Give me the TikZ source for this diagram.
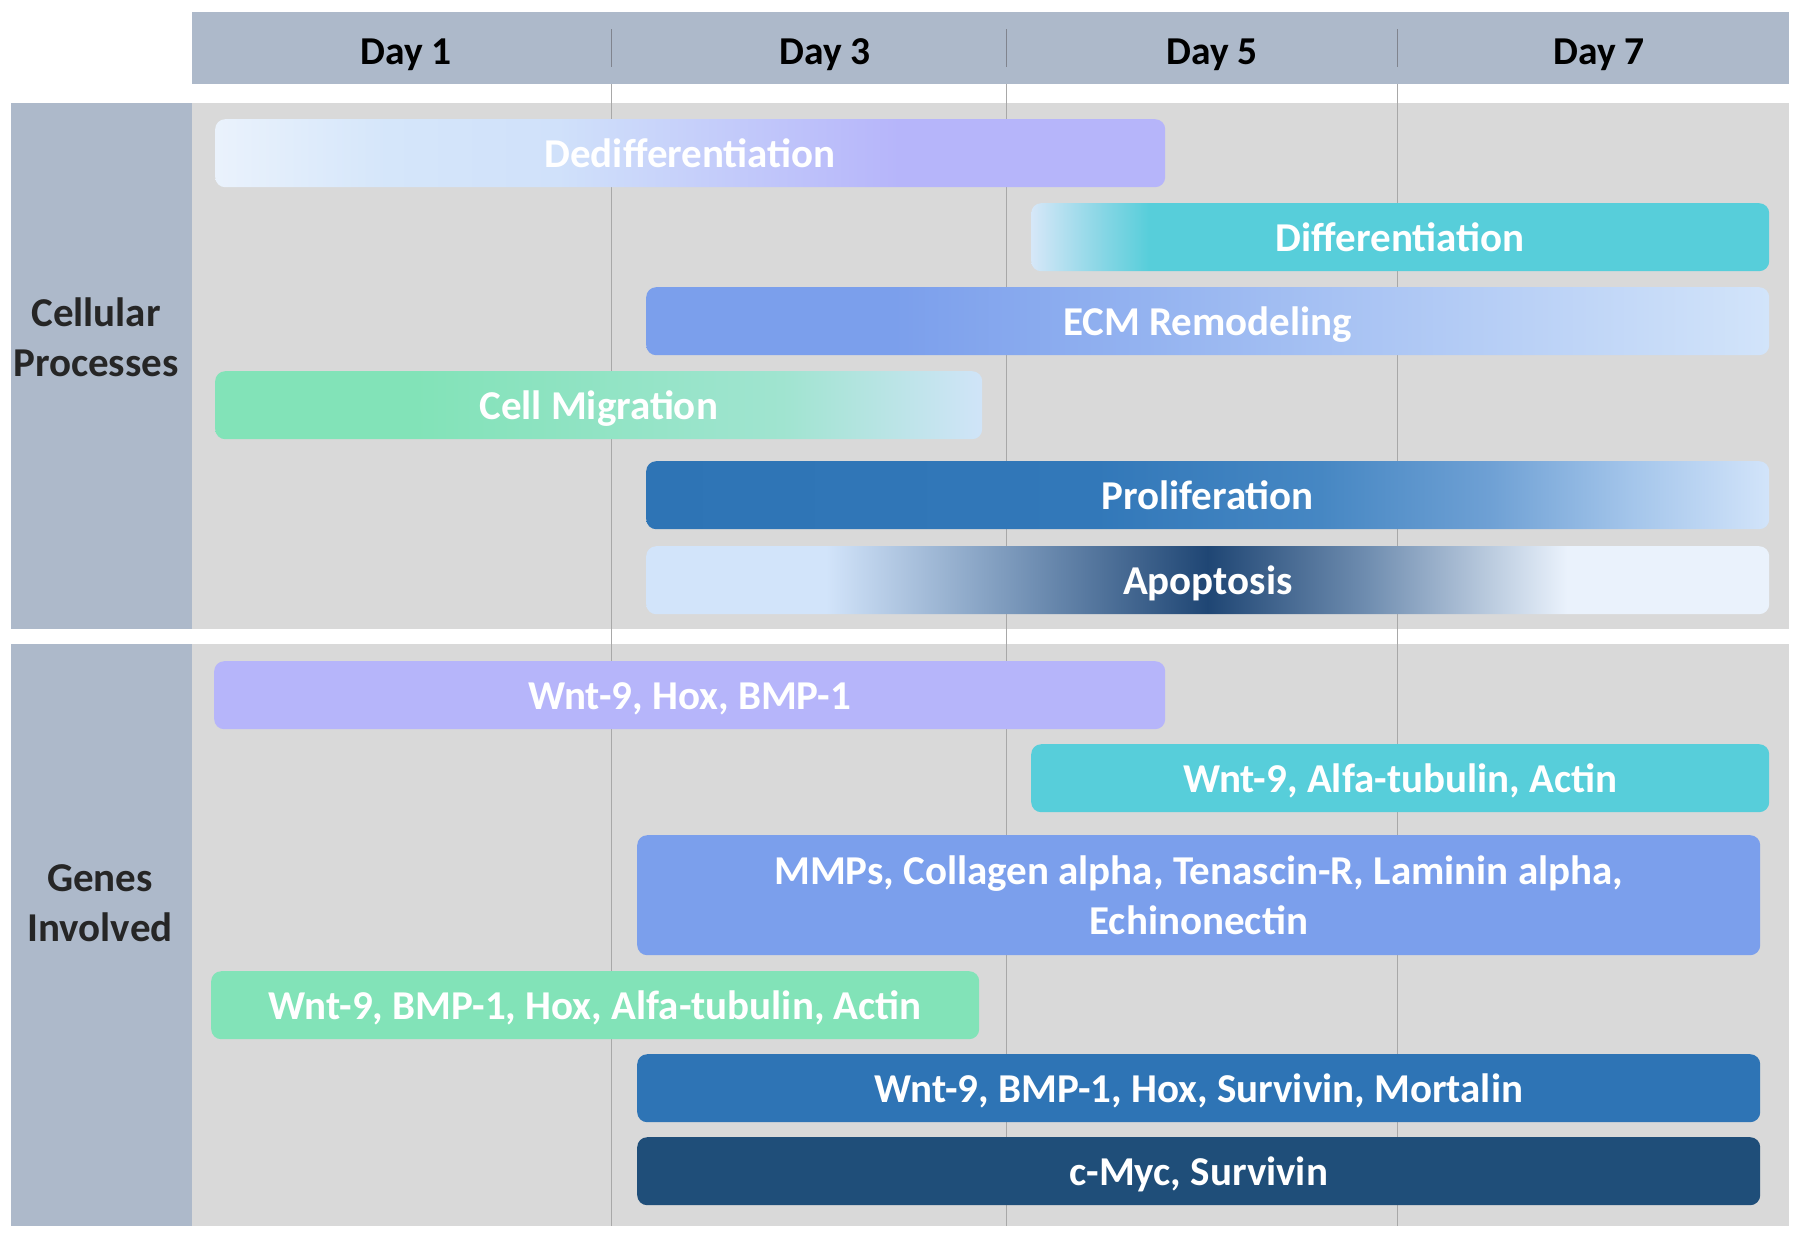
\documentclass[tikz,border=0pt]{standalone}
\usepackage{fontspec}
\setmainfont{Carlito}
\definecolor{cHdr}{RGB}{173,185,202}
\definecolor{cArea}{RGB}{217,217,217}
\definecolor{cGrid}{RGB}{168,168,168}
\definecolor{cTick}{RGB}{128,132,142}
\definecolor{cLav}{RGB}{182,181,250}
\definecolor{cTeal}{RGB}{87,206,218}
\definecolor{cEcm}{RGB}{123,159,236}
\definecolor{cMint}{RGB}{130,227,184}
\definecolor{cProl}{RGB}{46,116,181}
\definecolor{cNavy}{RGB}{31,78,121}
\definecolor{cPale}{RGB}{210,228,250}
\definecolor{cPaler}{RGB}{234,242,252}
\definecolor{cDarkTxt}{RGB}{38,38,38}
% intermediate stops
\definecolor{dedA}{RGB}{213,230,250}
\definecolor{dedB}{RGB}{208,225,250}
\definecolor{difA}{RGB}{214,231,248}
\definecolor{difB}{RGB}{140,215,230}
\definecolor{migA}{RGB}{160,228,208}
\definecolor{migB}{RGB}{208,228,248}
\definecolor{proA}{RGB}{50,120,185}
\definecolor{proB}{RGB}{70,135,195}
\definecolor{proC}{RGB}{110,160,212}
\definecolor{proD}{RGB}{165,198,235}
\definecolor{apoA}{RGB}{120,150,185}
\definecolor{apoB}{RGB}{31,70,116}
\definecolor{apoC}{RGB}{110,140,175}
% shadings: bar spans 25bp..75bp
\pgfdeclarehorizontalshading{shDed}{100bp}{color(0bp)=(cPaler); color(25bp)=(cPaler); color(34bp)=(dedA); color(43bp)=(dedB); color(61bp)=(cLav); color(100bp)=(cLav)}
\pgfdeclarehorizontalshading{shDiff}{100bp}{color(0bp)=(difA); color(25bp)=(difA); color(29.5bp)=(difB); color(33bp)=(cTeal); color(100bp)=(cTeal)}
\pgfdeclarehorizontalshading{shEcm}{100bp}{color(0bp)=(cEcm); color(25bp)=(cEcm); color(36bp)=(cEcm); color(75bp)=(cPale); color(100bp)=(cPale)}
\pgfdeclarehorizontalshading{shMig}{100bp}{color(0bp)=(cMint); color(25bp)=(cMint); color(38bp)=(cMint); color(62bp)=(migA); color(75bp)=(migB); color(100bp)=(migB)}
\pgfdeclarehorizontalshading{shProl}{100bp}{color(0bp)=(cProl); color(25bp)=(cProl); color(45bp)=(proA); color(55bp)=(proB); color(62.5bp)=(proC); color(69bp)=(proD); color(75bp)=(cPale); color(100bp)=(cPale)}
\pgfdeclarehorizontalshading{shApo}{100bp}{color(0bp)=(cPale); color(25bp)=(cPale); color(33bp)=(cPale); color(41.5bp)=(apoA); color(50bp)=(apoB); color(57bp)=(apoC); color(66bp)=(cPaler); color(75bp)=(cPaler); color(100bp)=(cPaler)}
\newcommand\barfont{\fontsize{41}{50}\selectfont\bfseries}
\newcommand\dayfont{\fontsize{39.5}{48}\selectfont\bfseries}
\tikzset{
  barbase/.style={rounded corners=10pt, inner sep=0pt, text=white, font=\barfont,
    anchor=north west, minimum height=68pt, align=center},
  bar/.style={barbase, text height=29pt, text depth=0pt},
  gridline/.style={draw=cGrid, line width=1pt},
  tickline/.style={draw=cTick, line width=1pt},
  daylabel/.style={font=\dayfont, text=black, inner sep=0pt, text height=27pt, text depth=0pt},
  sidelabel/.style={font=\barfont, text=cDarkTxt, inner sep=0pt, align=center}
}
\begin{document}
\begin{tikzpicture}[x=1pt, y=-1pt]
\useasboundingbox[fill=white] (0,0) rectangle (1800,1237);
% header
\fill[cHdr] (192,12) rectangle (1789,84);
% sections
\fill[cHdr] (11,103) rectangle (192,629);
\fill[cArea] (192,103) rectangle (1789,629);
\fill[cHdr] (11,644) rectangle (192,1226);
\fill[cArea] (192,644) rectangle (1789,1226);
% grid lines and header ticks
\foreach \gx in {611,1006,1397}{
  \draw[gridline] (\gx,84) -- (\gx,1226);
  \draw[tickline] (\gx,29) -- (\gx,67);
}
% day labels
\node[daylabel] (d1) at (406,51) {Day 1};
\node[daylabel] (d3) at (825,51) {Day 3};
\node[daylabel] (d5) at (1212,51) {Day 5};
\node[daylabel] (d7) at (1599,51) {Day 7};
% side labels
\node[sidelabel] (lp) at (96,337) {Cellular\\Processes};
\node[sidelabel] (lg) at (100,903) {Genes\\Involved};
% cellular processes
\node[bar, shading=shDed, minimum width=950pt] (ded) at (215,119) {Dedifferentiation};
\node[bar, shading=shDiff, minimum width=738pt] (dif) at (1031,203) {Differentiation};
\node[bar, shading=shEcm, minimum width=1123pt] (ecm) at (646,287) {ECM Remodeling};
\node[bar, shading=shMig, minimum width=767pt] (mig) at (215,371) {Cell Migration};
\node[bar, shading=shProl, minimum width=1123pt] (pro) at (646,461) {Proliferation};
\node[bar, shading=shApo, minimum width=1123pt] (apo) at (646,546) {Apoptosis};
% genes involved
\node[bar, fill=cLav, minimum width=951pt] (g1) at (214,661) {Wnt-9, Hox, BMP-1};
\node[bar, fill=cTeal, minimum width=738pt] (g2) at (1031,744) {Wnt-9, Alfa-tubulin, Actin};
\node[barbase, fill=cEcm, minimum width=1123pt, minimum height=120pt] (g3) at (637,835) {MMPs, Collagen alpha, Tenascin-R, Laminin alpha,\\Echinonectin};
\node[bar, fill=cMint, minimum width=768pt] (g4) at (211,971) {Wnt-9, BMP-1, Hox, Alfa-tubulin, Actin};
\node[bar, fill=cProl, minimum width=1123pt] (g5) at (637,1054) {Wnt-9, BMP-1, Hox, Survivin, Mortalin};
\node[bar, fill=cNavy, minimum width=1123pt] (g6) at (637,1137) {c-Myc, Survivin};
\end{tikzpicture}
\end{document}
